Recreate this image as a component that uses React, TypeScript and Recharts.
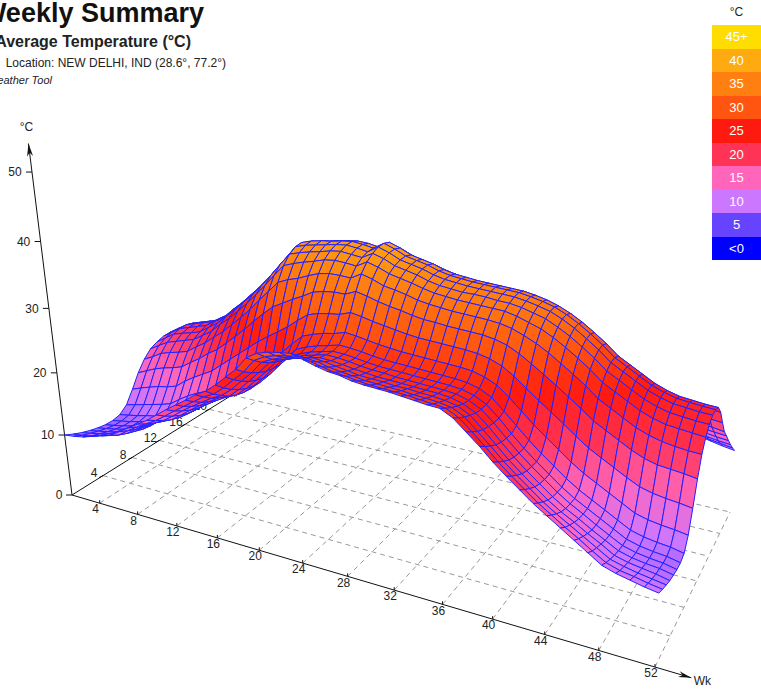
import React from "react";
import { ComposedChart, Line, Scatter, XAxis, YAxis } from "recharts";

// Average temperature (°C), one row per week (1-52), one column per hour (0-24).
const temps: number[][] = [
  [10.0,9.4,8.9,8.5,8.2,8.0,8.0,8.3,9.3,11.3,13.5,15.2,16.4,17.0,17.4,17.5,17.2,16.4,14.8,13.5,12.6,11.9,11.2,10.6,10.0],
  [10.2,9.6,9.2,8.8,8.5,8.3,8.3,8.6,9.7,11.9,14.2,16.0,17.3,18.0,18.4,18.5,18.2,17.3,15.6,14.2,13.2,12.4,11.6,10.9,10.2],
  [10.5,9.9,9.5,9.1,8.8,8.6,8.6,8.9,10.1,12.4,14.9,16.9,18.2,19.0,19.4,19.5,19.2,18.2,16.4,14.9,13.8,12.9,12.0,11.2,10.5],
  [11.0,10.4,9.9,9.5,9.2,9.0,9.0,9.3,10.5,12.9,15.4,17.4,18.7,19.5,19.9,20.0,19.7,18.7,16.9,15.4,14.3,13.4,12.5,11.7,11.0],
  [11.5,10.8,10.3,9.9,9.5,9.3,9.3,9.6,10.9,13.2,15.8,17.8,19.2,19.9,20.4,20.5,20.2,19.2,17.4,15.8,14.7,13.8,13.0,12.2,11.5],
  [12.0,11.3,10.8,10.4,10.0,9.8,9.8,10.1,11.4,13.7,16.3,18.3,19.7,20.4,20.9,21.0,20.7,19.7,17.9,16.3,15.2,14.3,13.5,12.7,12.0],
  [13.0,12.4,11.9,11.5,11.2,11.0,11.0,11.3,12.5,14.9,17.4,19.4,20.7,21.5,21.9,22.0,21.7,20.7,18.9,17.4,16.3,15.4,14.5,13.7,13.0],
  [14.0,13.4,12.9,12.5,12.2,12.0,12.0,12.3,13.5,15.9,18.4,20.4,21.7,22.5,22.9,23.0,22.7,21.7,19.9,18.4,17.3,16.4,15.5,14.7,14.0],
  [15.0,14.3,13.7,13.2,12.8,12.6,12.6,13.0,14.3,16.8,19.6,21.7,23.2,24.0,24.5,24.6,24.2,23.2,21.2,19.6,18.4,17.4,16.6,15.7,15.0],
  [16.0,15.2,14.5,13.9,13.5,13.3,13.2,13.6,15.0,17.7,20.6,22.9,24.5,25.4,25.9,26.0,25.6,24.5,22.4,20.6,19.3,18.4,17.5,16.7,16.0],
  [17.2,16.3,15.6,15.0,14.6,14.4,14.3,14.7,16.2,19.0,22.0,24.4,26.0,27.0,27.5,27.6,27.2,26.0,23.9,22.0,20.7,19.7,18.8,18.0,17.2],
  [18.4,17.5,16.8,16.2,15.8,15.6,15.5,15.9,17.4,20.3,23.4,25.9,27.6,28.5,29.1,29.2,28.8,27.6,25.4,23.4,22.1,21.1,20.1,19.2,18.4],
  [19.5,18.6,17.9,17.3,16.8,16.6,16.5,16.9,18.5,21.6,24.9,27.5,29.3,30.3,30.9,31.0,30.6,29.3,27.0,24.9,23.5,22.4,21.3,20.4,19.5],
  [20.6,19.7,18.9,18.3,17.8,17.6,17.5,18.0,19.7,22.9,26.5,29.3,31.1,32.2,32.8,33.0,32.5,31.1,28.7,26.5,25.0,23.8,22.6,21.6,20.6],
  [21.8,20.8,19.9,19.3,18.7,18.5,18.4,18.9,20.7,24.2,28.0,31.0,33.0,34.2,34.8,35.0,34.5,33.0,30.4,28.0,26.4,25.1,23.9,22.8,21.8],
  [22.7,21.6,20.7,19.9,19.4,19.1,19.0,19.5,21.5,25.3,29.4,32.7,34.8,36.1,36.8,37.0,36.5,34.8,32.0,29.4,27.6,26.2,25.0,23.8,22.7],
  [24.0,22.9,22.0,21.3,20.8,20.5,20.4,20.9,22.8,26.4,30.3,33.4,35.4,36.6,37.3,37.5,37.0,35.4,32.7,30.3,28.6,27.3,26.1,25.0,24.0],
  [25.5,24.5,23.6,22.9,22.4,22.1,22.0,22.5,24.2,27.5,31.2,33.9,35.9,37.0,37.6,37.8,37.3,35.9,33.4,31.2,29.6,28.5,27.4,26.4,25.5],
  [27.0,26.0,25.2,24.6,24.1,23.9,23.8,24.2,25.8,28.8,32.0,34.6,36.3,37.3,37.9,38.0,37.6,36.3,34.0,32.0,30.6,29.6,28.7,27.8,27.0],
  [29.0,28.0,27.1,26.4,25.9,25.6,25.5,25.9,27.3,30.0,32.9,35.2,36.8,37.7,38.2,38.3,37.9,36.8,34.7,32.9,31.6,30.9,30.2,29.6,29.0],
  [30.0,28.9,27.9,27.2,26.6,26.3,26.2,26.6,27.9,30.5,33.3,35.5,37.0,37.9,38.4,38.5,38.1,37.0,35.1,33.3,32.1,31.5,31.0,30.5,30.0],
  [30.5,29.4,28.5,27.7,27.2,26.9,26.8,27.1,28.4,30.8,33.5,35.5,36.9,37.7,38.2,38.3,38.0,36.9,35.1,33.5,32.3,31.8,31.3,30.9,30.5],
  [30.8,29.7,28.8,28.1,27.6,27.3,27.2,27.5,28.7,31.0,33.5,35.4,36.7,37.5,37.9,38.0,37.7,36.7,35.0,33.5,32.4,32.0,31.5,31.2,30.8],
  [31.0,30.0,29.1,28.5,27.9,27.7,27.6,27.9,29.2,31.6,34.2,36.3,37.6,38.4,38.9,39.0,38.7,37.6,35.8,34.2,33.1,32.5,32.0,31.5,31.0],
  [30.5,29.6,28.9,28.3,27.8,27.6,27.5,27.8,29.0,31.3,33.8,35.8,37.1,37.9,38.3,38.4,38.1,37.1,35.3,33.8,32.7,32.1,31.5,31.0,30.5],
  [30.0,29.2,28.5,28.0,27.6,27.4,27.3,27.6,28.7,30.9,33.3,35.1,36.4,37.1,37.5,37.6,37.3,36.4,34.7,33.3,32.2,31.6,31.0,30.5,30.0],
  [29.6,28.8,28.2,27.7,27.3,27.1,27.0,27.3,28.4,30.6,32.9,34.8,36.0,36.7,37.1,37.2,36.9,36.0,34.3,32.9,31.9,31.3,30.7,30.1,29.6],
  [29.4,28.6,28.0,27.4,27.1,26.9,26.8,27.1,28.2,30.3,32.6,34.4,35.6,36.3,36.7,36.8,36.5,35.6,34.0,32.6,31.6,31.0,30.4,29.9,29.4],
  [29.0,28.3,27.7,27.3,26.9,26.8,26.7,27.0,28.0,30.0,32.2,33.9,35.1,35.7,36.1,36.2,35.9,35.1,33.5,32.2,31.3,30.7,30.1,29.5,29.0],
  [28.8,28.1,27.6,27.2,26.8,26.6,26.6,26.9,27.9,29.8,31.9,33.6,34.7,35.3,35.7,35.8,35.5,34.7,33.2,31.9,31.0,30.4,29.8,29.3,28.8],
  [28.7,28.0,27.5,27.0,26.7,26.5,26.5,26.8,27.8,29.7,31.8,33.4,34.5,35.1,35.5,35.6,35.3,34.5,33.1,31.8,30.9,30.3,29.7,29.2,28.7],
  [28.6,27.9,27.4,27.0,26.6,26.4,26.4,26.7,27.7,29.6,31.6,33.2,34.3,34.9,35.3,35.4,35.1,34.3,32.9,31.6,30.7,30.1,29.6,29.1,28.6],
  [28.4,27.8,27.2,26.8,26.5,26.3,26.3,26.6,27.6,29.5,31.5,33.1,34.2,34.9,35.2,35.3,35.0,34.2,32.8,31.5,30.6,30.0,29.4,28.9,28.4],
  [28.2,27.6,27.1,26.7,26.4,26.2,26.2,26.5,27.5,29.4,31.4,33.0,34.1,34.8,35.1,35.2,34.9,34.1,32.7,31.4,30.5,29.9,29.3,28.7,28.2],
  [28.0,27.4,26.9,26.5,26.2,26.0,26.0,26.3,27.3,29.2,31.3,32.9,34.0,34.6,35.0,35.1,34.8,34.0,32.6,31.3,30.4,29.7,29.1,28.5,28.0],
  [27.9,27.2,26.6,26.1,25.7,25.5,25.5,25.8,26.8,28.8,31.0,32.7,33.9,34.5,34.9,35.0,34.7,33.9,32.3,31.0,30.1,29.5,28.9,28.4,27.9],
  [27.0,26.3,25.7,25.2,24.8,24.6,24.6,24.9,26.0,28.1,30.5,32.3,33.5,34.2,34.6,34.7,34.4,33.5,31.9,30.5,29.4,28.7,28.1,27.5,27.0],
  [25.5,24.8,24.1,23.6,23.3,23.1,23.0,23.3,24.6,27.0,29.6,31.6,32.9,33.7,34.2,34.3,34.0,32.9,31.1,29.6,28.4,27.6,26.8,26.1,25.5],
  [24.0,23.2,22.5,21.9,21.5,21.3,21.2,21.6,23.0,25.6,28.5,30.8,32.3,33.2,33.7,33.8,33.4,32.3,30.3,28.5,27.2,26.3,25.5,24.7,24.0],
  [22.3,21.5,20.8,20.2,19.8,19.6,19.5,19.9,21.4,24.2,27.3,29.8,31.4,32.3,32.9,33.0,32.6,31.4,29.2,27.3,26.0,25.0,24.0,23.1,22.3],
  [20.8,20.0,19.3,18.7,18.3,18.1,18.0,18.4,20.0,22.9,26.1,28.6,30.3,31.3,31.9,32.0,31.6,30.3,28.1,26.1,24.7,23.6,22.6,21.7,20.8],
  [19.4,18.6,17.9,17.3,16.9,16.7,16.6,17.0,18.6,21.6,24.8,27.4,29.1,30.1,30.7,30.8,30.4,29.1,26.8,24.8,23.4,22.3,21.2,20.3,19.4],
  [18.0,17.2,16.5,15.9,15.5,15.3,15.2,15.6,17.2,20.2,23.5,26.1,27.8,28.8,29.4,29.5,29.1,27.8,25.5,23.5,22.1,21.0,19.9,18.9,18.0],
  [16.8,16.0,15.3,14.7,14.3,14.1,14.0,14.4,16.0,18.9,22.1,24.6,26.3,27.3,27.9,28.0,27.6,26.3,24.1,22.1,20.7,19.6,18.6,17.7,16.8],
  [15.6,14.8,14.2,13.7,13.3,13.1,13.0,13.4,15.0,17.9,21.1,23.6,25.3,26.3,26.9,27.0,26.6,25.3,23.1,21.1,19.7,18.6,17.5,16.5,15.6],
  [14.4,13.7,13.1,12.6,12.2,12.0,12.0,12.4,14.0,16.9,20.1,22.6,24.3,25.3,25.9,26.0,25.6,24.3,22.1,20.1,18.7,17.5,16.4,15.3,14.4],
  [13.2,12.5,12.0,11.6,11.2,11.0,11.0,11.4,13.0,15.9,19.1,21.6,23.3,24.3,24.9,25.0,24.6,23.3,21.1,19.1,17.7,16.4,15.3,14.2,13.2],
  [12.0,11.4,10.9,10.5,10.2,10.0,10.0,10.4,12.0,15.0,18.3,20.9,22.6,23.6,24.2,24.3,23.9,22.6,20.3,18.3,16.9,15.5,14.3,13.1,12.0],
  [11.4,10.8,10.4,10.0,9.7,9.5,9.5,9.9,11.5,14.5,17.8,20.4,22.1,23.1,23.7,23.8,23.4,22.1,19.8,17.8,16.4,15.0,13.7,12.5,11.4],
  [11.0,10.5,10.0,9.7,9.4,9.2,9.2,9.6,11.2,14.2,17.6,20.1,21.9,22.9,23.5,23.6,23.2,21.9,19.6,17.6,16.1,14.7,13.3,12.1,11.0],
  [10.6,10.1,9.7,9.4,9.2,9.0,9.0,9.4,11.0,14.0,17.4,19.9,21.7,22.7,23.3,23.4,23.0,21.7,19.4,17.4,15.9,14.4,13.0,11.8,10.6],
  [10.3,9.8,9.4,9.0,8.8,8.6,8.6,9.0,10.7,13.7,17.1,19.8,21.5,22.6,23.2,23.3,22.9,21.5,19.2,17.1,15.7,14.2,12.8,11.5,10.3],
];

const weekTicks = [4, 8, 12, 16, 20, 24, 28, 32, 36, 40, 44, 48, 52];
const hourTicks = [4, 8, 12, 16, 20, 24];
const tempTicks = [0, 10, 20, 30, 40, 50];

const legendLabels = ["45+", "40", "35", "30", "25", "20", "15", "10", "5", "<0"];
const legendColors = ["#ffdd00", "#ffaa10", "#ff8010", "#ff5510", "#ff1a10", "#ff3355", "#ff66bb", "#cc77ff", "#6644ff", "#0000ff"];
const colorStops = [45, 40, 35, 30, 25, 20, 15, 10, 5, 0];

const W = 761;
const H = 691;
const FONT = "'Liberation Sans', Arial, sans-serif";

// Perspective camera fitted to the axes of the picture.
const project = (wk: number, hr: number, t: number) => {
  const u = (wk - 1) / 51;
  const v = hr / 24;
  const w = 1 - 0.2029 * u + 0.2012 * v - 0.00175 * t;
  return {
    px: (450.1 * u + 206.7 * v + 72 - 0.856 * t) / w,
    py: (36.7 * u - 20.5 * v + 495 - 6.76 * t) / w,
    w,
  };
};

const hex = (c: string) => [1, 3, 5].map((i) => parseInt(c.slice(i, i + 2), 16));

const tempColor = (t: number) => {
  const clamped = Math.max(0, Math.min(45, t));
  const lo = Math.min(8, Math.floor(clamped / 5));
  const f = clamped / 5 - lo;
  const a = hex(legendColors[9 - lo]);
  const b = hex(legendColors[8 - lo]);
  return `rgb(${a.map((x, i) => Math.round(x + (b[i] - x) * f)).join(",")})`;
};

// one record per cell, far cells first so the near ones paint over them
const cells = temps
  .slice(0, -1)
  .flatMap((row, i) =>
    row.slice(0, -1).map((t, h) => {
      const next = temps[i + 1];
      const mean = (t + row[h + 1] + next[h] + next[h + 1]) / 4;
      const corners = [
        project(i + 1, h, t),
        project(i + 2, h, next[h]),
        project(i + 2, h + 1, next[h + 1]),
        project(i + 1, h + 1, row[h + 1]),
      ];
      const mid = project(i + 1.5, h + 0.5, mean);
      return { ...mid, corners, fill: tempColor(mean) };
    })
  )
  .sort((a, b) => b.w - a.w);

const floorLines = [
  ...weekTicks.map((wk) => [project(wk, 0, 0), project(wk, 24, 0)]),
  ...hourTicks.map((hr) => [project(1, hr, 0), project(52, hr, 0)]),
];

const axes = [
  { from: project(1, 0, 0), to: project(54.5, 0, 0), name: "Wk", dx: 11, dy: 4 },
  { from: project(1, 0, 0), to: project(1, 26, 0), name: "Hr", dx: 5, dy: -3 },
  { from: project(1, 0, 0), to: project(1, 0, 54), name: "°C", dx: -2, dy: -16 },
];

const tickPoints = [
  ...weekTicks.map((wk) => ({ ...project(wk, 0, 0), label: String(wk), dx: -4, dy: 7, tx: 0, ty: -3 })),
  ...hourTicks.map((hr) => ({ ...project(1, hr, 0), label: String(hr), dx: -9, dy: -2, tx: -4, ty: 2 })),
  ...tempTicks.map((t) => ({ ...project(1, 0, t), label: String(t), dx: t === 0 ? -13 : -17, dy: 1, tx: -6, ty: 0 })),
];

const axisTips = axes.map((a) => ({ ...a.to, fromX: a.from.px, fromY: a.from.py, name: a.name, dx: a.dx, dy: a.dy }));

const CellShape = (props: any) => {
  const { cx, cy, payload } = props;
  const points = payload.corners
    .map((c: any) => `${cx + c.px - payload.px},${cy + c.py - payload.py}`)
    .join(" ");
  return <polygon points={points} fill={payload.fill} stroke="#2222ff" strokeWidth={1} strokeLinejoin="round" />;
};

const TickShape = (props: any) => {
  const { cx, cy, payload } = props;
  return (
    <g>
      <line x1={cx} y1={cy} x2={cx + payload.tx} y2={cy + payload.ty} stroke="#111" />
      <text x={cx + payload.dx} y={cy + payload.dy} textAnchor="middle" dominantBaseline="middle" fontFamily={FONT} fontSize={12} fill="#222">
        {payload.label}
      </text>
    </g>
  );
};

const TipShape = (props: any) => {
  const { cx, cy, payload } = props;
  const angle = Math.atan2(cy - payload.fromY, cx - payload.fromX);
  const back = (len: number, off: number) =>
    `${cx - len * Math.cos(angle) - off * Math.sin(angle)},${cy - len * Math.sin(angle) + off * Math.cos(angle)}`;
  return (
    <g>
      <polygon points={`${cx},${cy} ${back(13, 3)} ${back(9, 0)} ${back(13, -3)}`} fill="#111" />
      <text x={cx + payload.dx} y={cy + payload.dy} textAnchor="middle" dominantBaseline="middle" fontFamily={FONT} fontSize={12} fill="#222">
        {payload.name}
      </text>
    </g>
  );
};

const noDot = () => <g />;

export default function App() {
  return (
    <div style={{ position: "absolute", left: 0, top: 0, width: W, height: H, overflow: "hidden", background: "#fff", fontFamily: FONT }}>
      <ComposedChart width={W} height={H} margin={{ top: 0, right: 0, bottom: 0, left: 0 }}>
        <XAxis type="number" dataKey="px" domain={[0, W]} hide allowDataOverflow />
        <YAxis type="number" dataKey="py" domain={[0, H]} reversed hide allowDataOverflow />
        {floorLines.map((pts, i) => (
          <Line key={`floor-${i}`} data={pts} dataKey="py" type="linear" stroke="#999" strokeWidth={1} strokeDasharray="5 4" dot={false} isAnimationActive={false} />
        ))}
        {axes.map((a) => (
          <Line key={a.name} data={[a.from, a.to]} dataKey="py" type="linear" stroke="#111" strokeWidth={1} dot={false} isAnimationActive={false} />
        ))}
        <Scatter data={tickPoints} shape={TickShape} isAnimationActive={false} />
        <Scatter data={axisTips} shape={TipShape} isAnimationActive={false} />
        <Scatter data={cells} shape={CellShape} isAnimationActive={false} />
      </ComposedChart>

      <div style={{ position: "absolute", right: W - 204, top: -2, fontSize: 27, fontWeight: 700, color: "#111", whiteSpace: "nowrap" }}>Weekly Summary</div>
      <div style={{ position: "absolute", right: W - 191, top: 33, fontSize: 16, fontWeight: 700, color: "#222", whiteSpace: "nowrap" }}>Average Temperature (°C)</div>
      <div style={{ position: "absolute", right: W - 226, top: 56, fontSize: 12, color: "#222", whiteSpace: "nowrap" }}>Location: NEW DELHI, IND (28.6°, 77.2°)</div>
      <div style={{ position: "absolute", right: W - 52, top: 74, fontSize: 11, fontStyle: "italic", color: "#222", whiteSpace: "nowrap" }}>Weather Tool</div>

      <div style={{ position: "absolute", left: 712, top: 5, width: 49, textAlign: "center", fontSize: 12, color: "#222" }}>°C</div>
      {legendLabels.map((label, i) => (
        <div
          key={label}
          style={{ position: "absolute", left: 712, top: 25 + i * 23.55, width: 49, height: 23.55, lineHeight: "23.55px", textAlign: "center", fontSize: 13, color: "#fff", background: legendColors[i] }}
        >
          {label}
        </div>
      ))}
    </div>
  );
}
